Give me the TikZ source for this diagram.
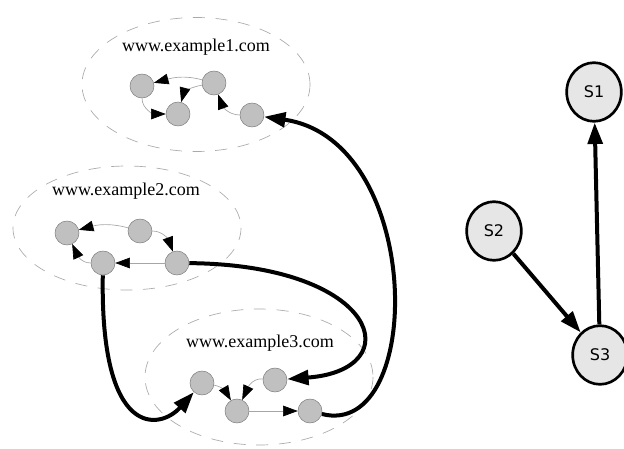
\documentclass[tikz,border=0pt]{standalone}
\usepackage{fontspec}
\setmainfont{Liberation Serif}
\newfontfamily\sfont{DejaVu Sans}
\usetikzlibrary{arrows.meta,shapes.geometric}
\definecolor{cgray}{RGB}{192,192,192}
\definecolor{sgray}{RGB}{230,230,230}
\definecolor{dgray}{RGB}{170,170,170}
\begin{document}
\begin{tikzpicture}[x=0.75pt,y=-0.75pt,
  site/.style={draw=dgray, dash pattern=on 9pt off 8pt, line width=0.5pt},
  pg/.style={circle, fill=cgray, draw=gray, line width=0.4pt, minimum size=18pt, inner sep=0pt},
  smallarrow/.style={draw=gray!70, line width=0.5pt, -{Triangle[length=11pt,width=8pt,color=black]}},
  bigarrow/.style={line width=3pt, -{Triangle[length=16pt,width=11pt]}},
  srv/.style={ellipse, draw, line width=2pt, fill=sgray, minimum width=41pt, minimum height=44pt, inner sep=0pt, font=\sfont\fontsize{12}{14}\selectfont},
  lbl/.style={font=\fontsize{13.5}{16}\selectfont, inner sep=0pt},
]
\useasboundingbox (0,0) rectangle (624,449);
% site ellipses
\draw[site] (196,84.5) ellipse [x radius=114, y radius=67];
\draw[site] (127,228) ellipse [x radius=114, y radius=62];
\draw[site] (259,377) ellipse [x radius=114, y radius=68];
\node[lbl] (l1) at (196,47) {www.example1.com};
\node[lbl] (l2) at (126,191) {www.example2.com};
\node[lbl] (l3) at (260,343) {www.example3.com};
% site 1
\node[pg] (a1) at (142,86) {};
\node[pg] (b1) at (214,83) {};
\node[pg] (c1) at (178,114) {};
\node[pg] (d1) at (252,115) {};
\draw[smallarrow] (b1) to[out=165,in=15] (a1);
\draw[smallarrow] (b1) to[out=190,in=75] (c1);
\draw[smallarrow] (a1) to[out=-90,in=180] (c1);
\draw[smallarrow] (d1) to[out=180,in=-70] (b1);
% site 2
\node[pg] (p2) at (67,233) {};
\node[pg] (q2) at (140,231) {};
\node[pg] (r2) at (103,263) {};
\node[pg] (s2) at (177,263) {};
\draw[smallarrow] (q2) to[out=165,in=15] (p2);
\draw[smallarrow] (q2) to[out=0,in=110] (s2);
\draw[smallarrow] (s2) -- (r2);
\draw[smallarrow] (r2) to[out=180,in=-65] (p2);
% site 3
\node[pg] (u3) at (202,383) {};
\node[pg] (v3) at (275,380) {};
\node[pg] (w3) at (237,411) {};
\node[pg] (x3) at (310,411) {};
\draw[smallarrow] (u3) to[out=-10,in=120] (w3);
\draw[smallarrow] (v3) to[out=175,in=65] (w3);
\draw[smallarrow] (w3) -- (x3);
% inter-site links
\draw[bigarrow] (r2) .. controls (100,440) and (160,430) .. (u3);
\draw[bigarrow] (s2) .. controls (380,265) and (410,370) .. (v3);
\draw[bigarrow] (x3) .. controls (425,440) and (425,140) .. (d1);
% server graph
\node[srv] (S1) at (594,92) {S1};
\node[srv] (S2) at (494,231) {S2};
\node[srv] (S3) at (600,355) {S3};
\draw[bigarrow] (S2) -- (S3);
\draw[bigarrow] (S3) -- (S1);
\end{tikzpicture}
\end{document}
